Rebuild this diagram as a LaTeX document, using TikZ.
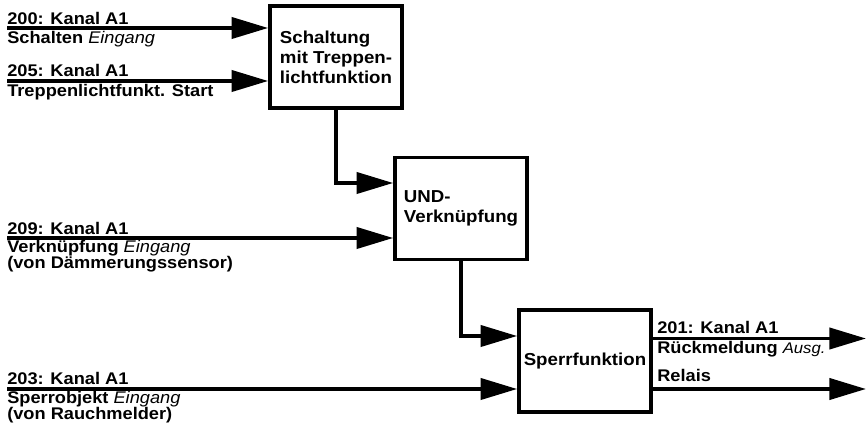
\documentclass[tikz,border=0pt]{standalone}
\usepackage{fontspec}
\setmainfont{Liberation Sans}[FakeStretch=1.08]
\usetikzlibrary{arrows.meta}
\usetikzlibrary{positioning}

\tikzset{
	blk/.style={draw, line width=2.6pt, minimum width=3.3cm, minimum height=2.55cm, inner sep=0pt, align=left, font=\bfseries\fontsize{12.3}{14.2}\selectfont},
	sig/.style={line width=2.6pt, -{Triangle[length=26pt,width=15pt]}},
	lbl/.style={anchor=base west, inner sep=0pt, font=\bfseries\fontsize{12}{14}\selectfont},
}
\newcommand{\ein}[1]{{\mdseries\itshape #1}}

\begin{document}
\begin{tikzpicture}
	
	\useasboundingbox (0,0) rectangle (21.675,-10.75);
	
	% Funktionsbloecke
	\node [blk] (schalt) at (8.4,-1.425) {Schaltung\\mit Treppen-\\lichtfunktion};
	\node [blk] (und) at (11.525,-5.2125) {UND-\\Verkn\"upfung};
	\node [blk] (sperr) at (14.625,-9.025) {Sperrfunktion};
	
	% Eingaenge
	\coordinate (in200) at (0.175,-0.7);
	\coordinate (in205) at (0.175,-2.025);
	\coordinate (in209) at (0.175,-5.95);
	\coordinate (in203) at (0.175,-9.725);
	\coordinate (k1) at (0,-4.575);
	\coordinate (k2) at (0,-8.4);
	\coordinate (out201) at (21.65,-8.4625);
	\coordinate (outrel) at (21.65,-9.725);
	
	\draw [sig] (in200) -- (in200 -| schalt.west);
	\draw [sig] (in205) -- (in205 -| schalt.west);
	\draw [sig] (schalt.south) |- (k1 -| und.west);
	\draw [sig] (in209) -- (in209 -| und.west);
	\draw [sig] (und.south) |- (k2 -| sperr.west);
	\draw [sig] (in203) -- (in203 -| sperr.west);
	\draw [sig] (out201 -| sperr.east) -- (out201);
	\draw [sig] (outrel -| sperr.east) -- (outrel);
	
	% Beschriftungen
	\node [lbl] (t200) at (0.175,-0.625) {200: Kanal A1};
	\node [lbl] (u200) at (0.175,-1.0825) {Schalten \ein{Eingang}};
	\node [lbl] (t205) at (0.175,-1.9175) {205: Kanal A1};
	\node [lbl] (u205) at (0.175,-2.4175) {Treppenlichtfunkt. Start};
	\node [lbl] (t209) at (0.175,-5.8575) {209: Kanal A1};
	\node [lbl] (u209) at (0.175,-6.3175) {Verkn\"upfung \ein{Eingang}};
	\node [lbl] (v209) at (0.175,-6.725) {(von D\"ammerungssensor)};
	\node [lbl] (t203) at (0.175,-9.625) {203: Kanal A1};
	\node [lbl] (u203) at (0.175,-10.0825) {Sperrobjekt \ein{Eingang}};
	\node [lbl] (v203) at (0.175,-10.5) {(von Rauchmelder)};
	\node [lbl] (t201) at (16.425,-8.3325) {201: Kanal A1};
	\node [lbl] (u201) at (16.425,-8.85) {R\"uckmeldung {\mdseries\itshape\fontsize{11}{12}\selectfont Ausg.}};
	\node [lbl] (trel) at (16.425,-9.5425) {Relais};
	
\end{tikzpicture}
\end{document}
